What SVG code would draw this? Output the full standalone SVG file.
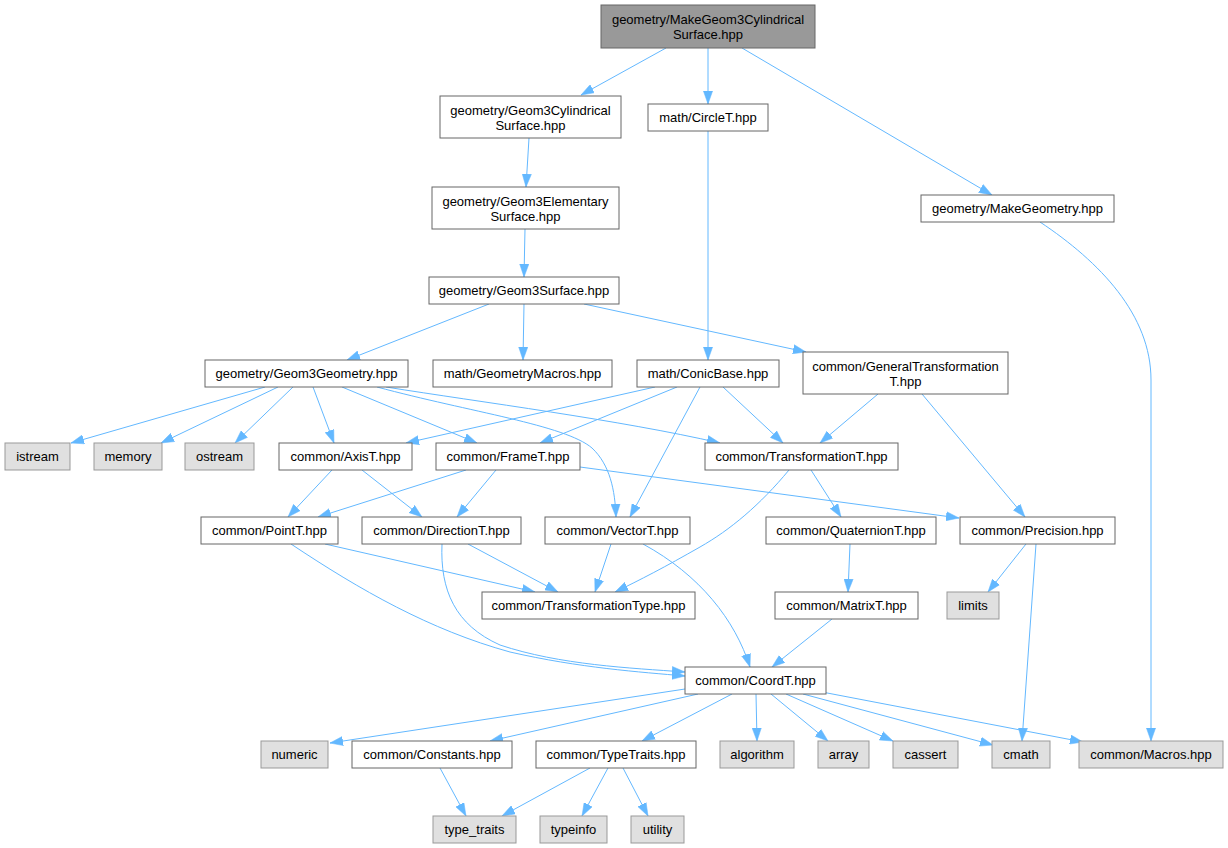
<svg xmlns="http://www.w3.org/2000/svg" width="1228" height="848" viewBox="0 0 1228 848">
<style>
.n rect{fill:#ffffff;stroke:#666666;stroke-width:1}
.m rect{fill:#999999;stroke:#666666;stroke-width:1}
.x rect{fill:#e0e0e0;stroke:#999999;stroke-width:1}
text{font-family:"Liberation Sans",Arial,sans-serif;font-size:13px;fill:#000000;text-anchor:middle}
#edges path{fill:none;stroke:#63b8ff;stroke-width:1;marker-end:url(#ah)}
</style>
<defs>
<marker id="ah" markerUnits="userSpaceOnUse" markerWidth="14" markerHeight="10" refX="13" refY="5" orient="auto">
<path d="M0,0.4 L13,5 L0,9.6 z" fill="#63b8ff" stroke="#63b8ff" stroke-width="0.5"/>
</marker>
</defs>
<rect x="0" y="0" width="1228" height="848" fill="#ffffff"/>
<g id="edges">
<path d="M666,48 L581,95"/>
<path d="M708,48 L708,104"/>
<path d="M742,48 L992,195"/>
<path d="M529,138 L526,187"/>
<path d="M708,131 L708,360"/>
<path d="M525,229 L524,277"/>
<path d="M1040,222 C1100,262 1151,315 1151,380 L1151,741"/>
<path d="M489,304 L347,360"/>
<path d="M524,304 L523,360"/>
<path d="M584,304 L806,352"/>
<path d="M265,387 L71,443"/>
<path d="M278,387 L161,443"/>
<path d="M293,387 L235,443"/>
<path d="M313,387 L334,443"/>
<path d="M342,387 L477,443"/>
<path d="M377,387 C470,412 565,425 592,448 C610,465 615,490 616,517"/>
<path d="M386,387 C480,402 620,420 720,443"/>
<path d="M655,387 L406,443"/>
<path d="M677,387 L540,443"/>
<path d="M700,387 L630,517"/>
<path d="M723,387 L783,443"/>
<path d="M878,394 L820,443"/>
<path d="M922,394 L1025,517"/>
<path d="M332,470 L288,517"/>
<path d="M362,470 L422,517"/>
<path d="M466,470 L318,517"/>
<path d="M496,470 L457,517"/>
<path d="M580,467 L959,518"/>
<path d="M789,470 C760,505 730,530 700,547 C665,567 640,580 615,592"/>
<path d="M811,470 L841,517"/>
<path d="M325,544 L535,592"/>
<path d="M291,544 C360,590 430,630 510,652 C580,668 640,672 685,676"/>
<path d="M468,544 L558,592"/>
<path d="M442,544 C440,590 455,625 500,645 C560,665 630,668 685,672"/>
<path d="M611,544 L595,592"/>
<path d="M643,544 C700,575 735,620 750,667"/>
<path d="M850,544 L848,592"/>
<path d="M832,619 L772,667"/>
<path d="M1026,544 L988,592"/>
<path d="M1036,544 L1022,741"/>
<path d="M685,689 L330,743"/>
<path d="M698,694 L490,741"/>
<path d="M732,694 L642,741"/>
<path d="M756,694 L757,741"/>
<path d="M771,694 L828,741"/>
<path d="M786,694 L893,741"/>
<path d="M803,694 L993,745"/>
<path d="M822,692 L1083,742"/>
<path d="M590,768 L502,816"/>
<path d="M608,768 L582,816"/>
<path d="M623,768 L648,816"/>
<path d="M440,768 L466,816"/>
</g>
<g id="n_main" class="m"><rect x="601" y="5" width="214" height="43"/><text x="708" y="24">geometry/MakeGeom3Cylindrical</text><text x="708" y="39">Surface.hpp</text></g>
<g id="n_cyl" class="n"><rect x="440" y="96" width="181" height="42"/><text x="530.5" y="115">geometry/Geom3Cylindrical</text><text x="530.5" y="130">Surface.hpp</text></g>
<g id="n_circle" class="n"><rect x="648" y="104" width="120" height="27"/><text x="708" y="122">math/CircleT.hpp</text></g>
<g id="n_elem" class="n"><rect x="432" y="187" width="187" height="42"/><text x="525.5" y="206">geometry/Geom3Elementary</text><text x="525.5" y="221">Surface.hpp</text></g>
<g id="n_mkgeo" class="n"><rect x="921" y="195" width="193" height="27"/><text x="1017.5" y="213">geometry/MakeGeometry.hpp</text></g>
<g id="n_surf" class="n"><rect x="429" y="277" width="190" height="27"/><text x="524" y="295">geometry/Geom3Surface.hpp</text></g>
<g id="n_geom" class="n"><rect x="205" y="360" width="203" height="27"/><text x="306.5" y="378">geometry/Geom3Geometry.hpp</text></g>
<g id="n_gmac" class="n"><rect x="433" y="360" width="179" height="27"/><text x="522.5" y="378">math/GeometryMacros.hpp</text></g>
<g id="n_conic" class="n"><rect x="637" y="360" width="142" height="27"/><text x="708" y="378">math/ConicBase.hpp</text></g>
<g id="n_gtrans" class="n"><rect x="803" y="352" width="205" height="42"/><text x="905.5" y="371">common/GeneralTransformation</text><text x="905.5" y="386">T.hpp</text></g>
<g id="n_istream" class="x"><rect x="5" y="443" width="65" height="27"/><text x="37.5" y="461">istream</text></g>
<g id="n_memory" class="x"><rect x="94" y="443" width="68" height="27"/><text x="128" y="461">memory</text></g>
<g id="n_ostream" class="x"><rect x="185" y="443" width="69" height="27"/><text x="219.5" y="461">ostream</text></g>
<g id="n_axis" class="n"><rect x="279" y="443" width="133" height="27"/><text x="345.5" y="461">common/AxisT.hpp</text></g>
<g id="n_frame" class="n"><rect x="436" y="443" width="144" height="27"/><text x="508" y="461">common/FrameT.hpp</text></g>
<g id="n_trans" class="n"><rect x="705" y="443" width="193" height="27"/><text x="801.5" y="461">common/TransformationT.hpp</text></g>
<g id="n_point" class="n"><rect x="201" y="517" width="137" height="27"/><text x="269.5" y="535">common/PointT.hpp</text></g>
<g id="n_dir" class="n"><rect x="362" y="517" width="159" height="27"/><text x="441.5" y="535">common/DirectionT.hpp</text></g>
<g id="n_vector" class="n"><rect x="545" y="517" width="145" height="27"/><text x="617.5" y="535">common/VectorT.hpp</text></g>
<g id="n_quat" class="n"><rect x="766" y="517" width="170" height="27"/><text x="851" y="535">common/QuaternionT.hpp</text></g>
<g id="n_prec" class="n"><rect x="960" y="517" width="155" height="27"/><text x="1037.5" y="535">common/Precision.hpp</text></g>
<g id="n_ttype" class="n"><rect x="482" y="592" width="213" height="27"/><text x="588.5" y="610">common/TransformationType.hpp</text></g>
<g id="n_matrix" class="n"><rect x="775" y="592" width="143" height="27"/><text x="846.5" y="610">common/MatrixT.hpp</text></g>
<g id="n_limits" class="x"><rect x="947" y="592" width="52" height="27"/><text x="973" y="610">limits</text></g>
<g id="n_coord" class="n"><rect x="685" y="667" width="141" height="27"/><text x="755.5" y="685">common/CoordT.hpp</text></g>
<g id="n_numeric" class="x"><rect x="261" y="741" width="67" height="27"/><text x="294.5" y="759">numeric</text></g>
<g id="n_const" class="n"><rect x="352" y="741" width="160" height="27"/><text x="432" y="759">common/Constants.hpp</text></g>
<g id="n_ttraits" class="n"><rect x="536" y="741" width="160" height="27"/><text x="616" y="759">common/TypeTraits.hpp</text></g>
<g id="n_algo" class="x"><rect x="720" y="741" width="74" height="27"/><text x="757" y="759">algorithm</text></g>
<g id="n_array" class="x"><rect x="818" y="741" width="51" height="27"/><text x="843.5" y="759">array</text></g>
<g id="n_cassert" class="x"><rect x="893" y="741" width="65" height="27"/><text x="925.5" y="759">cassert</text></g>
<g id="n_cmath" class="x"><rect x="992" y="741" width="58" height="27"/><text x="1021" y="759">cmath</text></g>
<g id="n_macros" class="x"><rect x="1079" y="741" width="144" height="27"/><text x="1151" y="759">common/Macros.hpp</text></g>
<g id="n_type_traits" class="x"><rect x="433" y="816" width="83" height="27"/><text x="474.5" y="834">type_traits</text></g>
<g id="n_typeinfo" class="x"><rect x="540" y="816" width="67" height="27"/><text x="573.5" y="834">typeinfo</text></g>
<g id="n_utility" class="x"><rect x="631" y="816" width="53" height="27"/><text x="657.5" y="834">utility</text></g>
</svg>
